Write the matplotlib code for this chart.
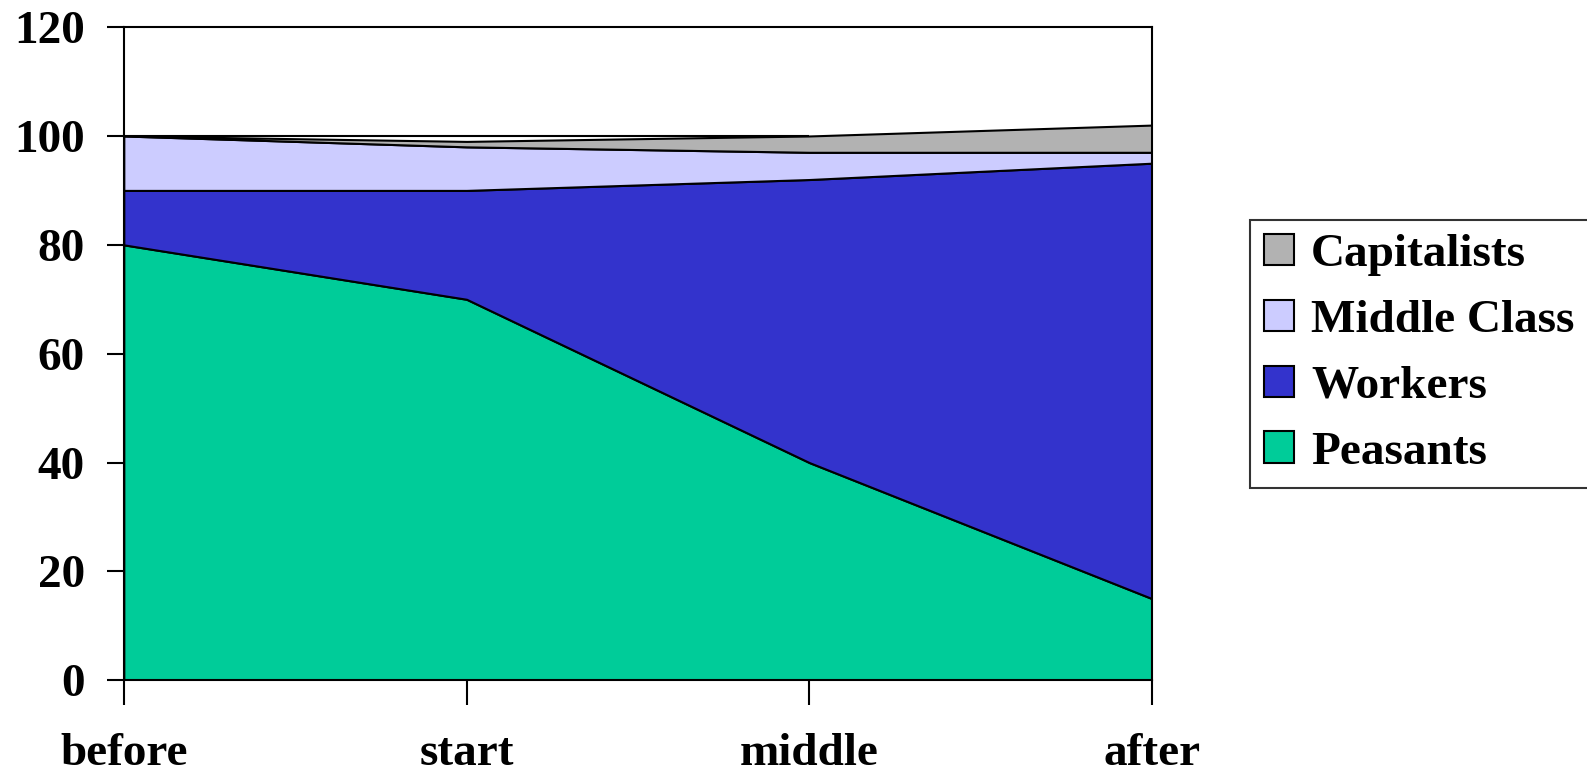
import matplotlib
matplotlib.use('Agg')
import matplotlib.pyplot as plt
import numpy as np

# stages of industrialisation
stages = ['before', 'start', 'middle', 'after']

# share of population per class (stacked bottom to top)
peasants = [80, 70, 40, 15]
workers = [10, 20, 52, 80]
middle_class = [10, 8, 5, 2]
capitalists = [0, 1, 3, 5]

series_names = ['Peasants', 'Workers', 'Middle Class', 'Capitalists']
series_colors = ['#00CC99', '#3333CC', '#CCCCFF', '#B2B2B2']

plt.rcParams['font.family'] = ['Liberation Serif', 'DejaVu Serif']
plt.rcParams['font.weight'] = 'bold'

fig = plt.figure(figsize=(15.87, 7.74), dpi=100)
ax = fig.add_axes([0.078, 0.121, 0.648, 0.844])

x = np.arange(len(stages))
layers = [peasants, workers, middle_class, capitalists]
bottom = np.zeros(len(stages))
handles = []
for vals, name, col in zip(layers, series_names, series_colors):
    top = bottom + np.array(vals)
    h = ax.fill_between(x, bottom, top, facecolor=col, edgecolor='black',
                        linewidth=1.5, label=name)
    handles.append(h)
    bottom = top

# thin reference line at 100 up to the middle stage
ax.hlines(100, 0, 2, color='black', linewidth=1.5)

ax.set_xlim(0, len(stages) - 1)
ax.set_ylim(0, 120)
ax.set_yticks(range(0, 121, 20))
ax.set_xticks(x)
ax.set_xticklabels(stages)

for sp in ax.spines.values():
    sp.set_linewidth(1.5)
ax.tick_params(axis='both', direction='out', width=1.5, labelsize=34)
ax.tick_params(axis='x', length=18, pad=20)
ax.tick_params(axis='y', length=12, pad=16)
for lbl in ax.get_xticklabels() + ax.get_yticklabels():
    lbl.set_fontweight('bold')

leg = ax.legend(handles[::-1], series_names[::-1], loc='center left',
                bbox_to_anchor=(1.095, 0.5), frameon=True, fancybox=False,
                edgecolor='black', fontsize=34, handlelength=0.64,
                handleheight=0.64, handletextpad=0.36, labelspacing=0.5,
                borderpad=0.3, borderaxespad=0)
leg.get_frame().set_linewidth(1.5)
for t in leg.get_texts():
    t.set_fontweight('bold')
for p in leg.get_patches():
    p.set_linewidth(1.5)

plt.savefig('out.png', dpi=100)
